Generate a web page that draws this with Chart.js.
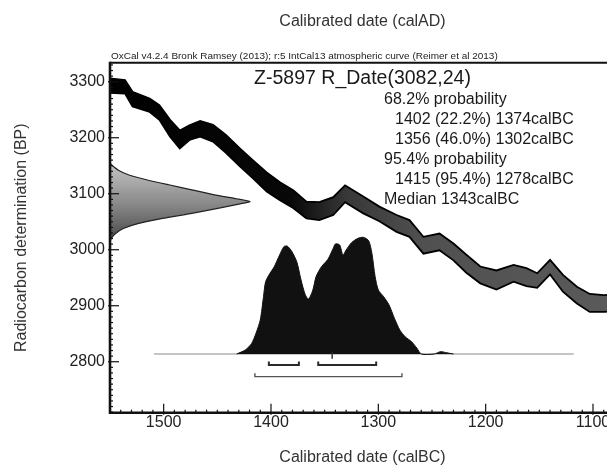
<!DOCTYPE html>
<html><head><meta charset="utf-8">
<script src="https://cdn.jsdelivr.net/npm/chart.js@4/dist/chart.umd.min.js"></script>
<style>html,body{margin:0;padding:0;background:#fff;overflow:hidden}#wrap{width:625px;height:466px}</style>
</head><body><div id="wrap"><canvas id="c" width="625" height="466"></canvas></div>
<script>
// ---- data ----
const xTicks = [1500, 1400, 1300, 1200, 1100];
const yTicks = [2800, 2900, 3000, 3100, 3200, 3300];

// IntCal13 calibration curve (calBC, BP centre, BP half-width)
const calYears = [1550,1536,1529,1513,1504,1494,1485,1476,1466,1454,1442,1429,1417,1404,1392,1379,1367,1355,1342,1331,1314,1299,1283,1271,1258,1243,1230,1218,1205,1190,1174,1162,1152,1140,1128,1115,1103,1090,1079];
const calBP    = [3293,3291,3269,3258,3245,3217,3197,3209,3216,3208,3189,3165,3144,3121,3105,3090,3071,3069,3078,3100,3080,3064,3047,3038,3008,3014,2996,2975,2955,2946,2958,2951,2945,2969,2940,2919,2905,2904,2905];
const calErr   = [13,12,13,12,13,15,16,13,14,15,16,16,16,17,16,16,15,16,16,15,15,13,15,15,15,15,15,16,15,17,15,16,13,13,15,15,16,15,15];

// calibrated probability distribution (calBC, relative probability)
const postYears = [1432,1424,1418,1414,1410,1407,1405,1401,1397,1392,1388,1385,1381,1376,1372,1368,1365,1361,1358,1353,1347,1342,1340,1336,1333,1330,1325,1319,1314,1309,1306,1303,1300,1295,1290,1285,1280,1275,1269,1264,1260,1248,1242,1236,1230];
const postProb  = [0,0.034,0.091,0.177,0.291,0.491,0.62,0.691,0.748,0.848,0.92,0.925,0.885,0.791,0.634,0.506,0.471,0.548,0.663,0.748,0.811,0.906,0.943,0.934,0.848,0.891,0.954,0.991,1.0,0.971,0.863,0.663,0.548,0.491,0.42,0.306,0.206,0.148,0.105,0.049,0,0,0.02,0.01,0];
const postRange = [1509, 1118];

// radiocarbon date distribution (BP, relative probability)
const dateBP   = [3154,3142,3133,3125,3116,3107,3098,3091,3086,3082,3074,3065,3056,3047,3038,3029,3020,3012];
const dateProb = [0,0.06,0.14,0.26,0.42,0.585,0.745,0.905,1.0,0.929,0.77,0.585,0.375,0.205,0.095,0.04,0.008,0];

// ranges
const range68Start = [1402, 1356];
const range68End   = [1374, 1302];
const range95Start = [1415];
const range95End   = [1278];
const medianYear   = 1343;

const creditText  = 'OxCal v4.2.4 Bronk Ramsey (2013); r:5 IntCal13 atmospheric curve (Reimer et al 2013)';
const sampleTitle = 'Z-5897 R_Date(3082,24)';
const summaryLines = [
  ['68.2% probability', 0],
  ['1402 (22.2%) 1374calBC', 1],
  ['1356 (46.0%) 1302calBC', 1],
  ['95.4% probability', 0],
  ['1415 (95.4%) 1278calBC', 1],
  ['Median 1343calBC', 0]
];

// ---- build datasets ----
const FONT = '"Liberation Sans", Arial, sans-serif';
const calUpper = calYears.map((yr, i) => ({x: yr, y: calBP[i] + calErr[i]}));
const calLower = calYears.map((yr, i) => ({x: yr, y: calBP[i] - calErr[i]}));
const postData = postYears.map((yr, i) => ({x: yr, y: postProb[i]}));
const dateData = dateBP.map((bp, i) => ({x: dateProb[i], y: bp}));

const L68 = -0.094, L95 = -0.194, TK = 0.03;
function bracket(s, e, lvl) {
  return [{x: s, y: lvl + TK}, {x: s, y: lvl}, {x: e, y: lvl}, {x: e, y: lvl + TK}];
}
const bracketSets = [];
range68Start.forEach((s, i) => bracketSets.push({data: bracket(s, range68End[i], L68), color: '#2a2a2a', w: 2}));
range95Start.forEach((s, i) => bracketSets.push({data: bracket(s, range95End[i], L95), color: '#555', w: 1.4}));

function calGradient(ctx) {
  const ch = ctx.chart, a = ch.chartArea;
  if (!a) return '#000';
  const g = ch.ctx.createLinearGradient(a.left, 0, a.right, 0);
  g.addColorStop(0, '#000');
  g.addColorStop(0.36, '#080808');
  g.addColorStop(0.47, '#383838');
  g.addColorStop(0.62, '#505050');
  g.addColorStop(1, '#5a5a5a');
  return g;
}
function dateGradient(ctx) {
  const ch = ctx.chart, a = ch.chartArea;
  if (!a) return '#888';
  const ys = ch.scales.y;
  const g = ch.ctx.createLinearGradient(0, ys.getPixelForValue(dateBP[0]), 0, ys.getPixelForValue(dateBP[dateBP.length - 1]));
  g.addColorStop(0, '#c4c4c4');
  g.addColorStop(0.5, '#8a8a8a');
  g.addColorStop(1, '#444');
  return g;
}

const datasets = [
  {label: 'date', data: dateData, xAxisID: 'xg', yAxisID: 'y', indexAxis: 'y', fill: 'origin', tension: 0.2,
   backgroundColor: dateGradient, borderColor: '#222', borderWidth: 1.2, pointRadius: 0, order: 10},
  {label: 'calUpper', data: calUpper, xAxisID: 'x', yAxisID: 'y', fill: false,
   borderColor: '#000', borderWidth: 1.8, pointRadius: 0, order: 8},
  {label: 'calLower', data: calLower, xAxisID: 'x', yAxisID: 'y', fill: 1,
   backgroundColor: calGradient, borderColor: '#000', borderWidth: 1.8, pointRadius: 0, order: 9},
  {label: 'baseline', data: [{x: postRange[0], y: 0}, {x: postRange[1], y: 0}], xAxisID: 'x', yAxisID: 'y2',
   borderColor: '#8a8a8a', borderWidth: 1, pointRadius: 0, fill: false, order: 7},
  {label: 'posterior', data: postData, xAxisID: 'x', yAxisID: 'y2', fill: 'origin',
   backgroundColor: '#111', borderColor: '#111', borderWidth: 1, pointRadius: 0, tension: 0.25, order: 6},
  {label: 'median', data: [{x: medianYear, y: 0.015}, {x: medianYear, y: -0.04}], xAxisID: 'x', yAxisID: 'y2',
   borderColor: '#333', borderWidth: 1.5, pointRadius: 0, fill: false, order: 4}
];
bracketSets.forEach((b, i) => datasets.push({label: 'range' + i, data: b.data, xAxisID: 'x', yAxisID: 'y2',
  borderColor: b.color, borderWidth: b.w, pointRadius: 0, fill: false, order: 5}));

// ---- decoration plugin: frame, inward ticks, annotation text ----
const deco = {
  id: 'deco',
  afterDatasetsDraw(chart) {
    const {ctx, chartArea: a, scales} = chart;
    const xs = scales.x, ys = scales.y;
    ctx.save();
    ctx.strokeStyle = '#111';
    ctx.lineWidth = 1.2;
    for (let v = Math.ceil(ys.min / 10) * 10; v <= ys.max; v += 10) {
      const py = ys.getPixelForValue(v);
      const major = v % 100 === 0;
      ctx.beginPath(); ctx.moveTo(a.left - (major ? 2 : 0), py); ctx.lineTo(a.left + (major ? 9 : 3), py); ctx.stroke();
    }
    for (let v = Math.ceil(xs.min / 10) * 10; v <= xs.max; v += 10) {
      const px = xs.getPixelForValue(v);
      const major = v % 100 === 0;
      ctx.beginPath(); ctx.moveTo(px, a.bottom + (major ? 2 : 0)); ctx.lineTo(px, a.bottom - (major ? 9 : 3)); ctx.stroke();
    }
    ctx.lineWidth = 2.6;
    ctx.beginPath(); ctx.moveTo(a.left, a.top - 1); ctx.lineTo(a.left, a.bottom); ctx.lineTo(a.right, a.bottom); ctx.stroke();
    ctx.lineWidth = 2;
    ctx.beginPath(); ctx.moveTo(a.left, a.top); ctx.lineTo(a.right, a.top); ctx.lineTo(a.right, a.bottom); ctx.stroke();

    // credit line
    ctx.fillStyle = '#222';
    ctx.textAlign = 'left';
    ctx.textBaseline = 'alphabetic';
    ctx.font = '10px ' + FONT;
    const w10 = ctx.measureText(creditText).width;
    const fs = 10 * 387 / w10;
    ctx.font = fs.toFixed(2) + 'px ' + FONT;
    ctx.fillText(creditText, a.left + 1, a.top - 3.5);

    // sample title
    ctx.fillStyle = '#1a1a1a';
    ctx.font = '19.5px ' + FONT;
    ctx.textAlign = 'center';
    ctx.fillText(sampleTitle, (a.left + a.right) / 2, a.top + 21);

    // summary
    ctx.textAlign = 'left';
    ctx.font = '16px ' + FONT;
    summaryLines.forEach((ln, i) => {
      ctx.fillText(ln[0], 384 + ln[1] * 11, 104 + i * 20);
    });
    ctx.restore();
  }
};

new Chart(document.getElementById('c'), {
  type: 'line',
  data: {datasets},
  options: {
    responsive: false,
    animation: false,
    events: [],
    devicePixelRatio: 1,
    layout: {padding: {left: 0, right: 10, top: 0, bottom: 0}},
    plugins: {
      legend: {display: false},
      tooltip: {enabled: false},
      title: {display: true, text: 'Calibrated date (calAD)', fullSize: false, color: '#333',
        font: {family: FONT, size: 16, weight: 'normal', lineHeight: 1.2}, padding: {top: 12, bottom: 31.5}}
    },
    scales: {
      x: {type: 'linear', position: 'bottom', reverse: true, min: 1079.5, max: 1550,
        grid: {display: false, drawTicks: false}, border: {display: false},
        afterBuildTicks: s => { s.ticks = xTicks.map(v => ({value: v})); },
        afterFit: s => { s.height = 53.3; },
        ticks: {padding: 0, color: '#222', font: {family: FONT, size: 16}, autoSkip: false, maxRotation: 0,
          callback: v => String(v)},
        title: {display: true, text: 'Calibrated date (calBC)', color: '#333',
          font: {family: FONT, size: 16, lineHeight: 1}, padding: {top: 0, bottom: 0.3}}
      },
      y: {type: 'linear', position: 'left', min: 2709, max: 3334,
        grid: {display: false, drawTicks: false}, border: {display: false},
        afterBuildTicks: s => { s.ticks = yTicks.map(v => ({value: v})); },
        afterFit: s => { s.width = 110; },
        ticks: {padding: 5, color: '#222', font: {family: FONT, size: 16}, autoSkip: false,
          callback: v => String(v)},
        title: {display: true, text: 'Radiocarbon determination (BP)', color: '#333',
          font: {family: FONT, size: 16, lineHeight: 1.2}, padding: {top: 12.4, bottom: 0}}
      },
      y2: {type: 'linear', display: false, min: -0.503, max: 2.496},
      xg: {type: 'linear', axis: 'x', display: false, min: 0, max: 3.607}
    }
  },
  plugins: [deco]
});
</script>
</body></html>
